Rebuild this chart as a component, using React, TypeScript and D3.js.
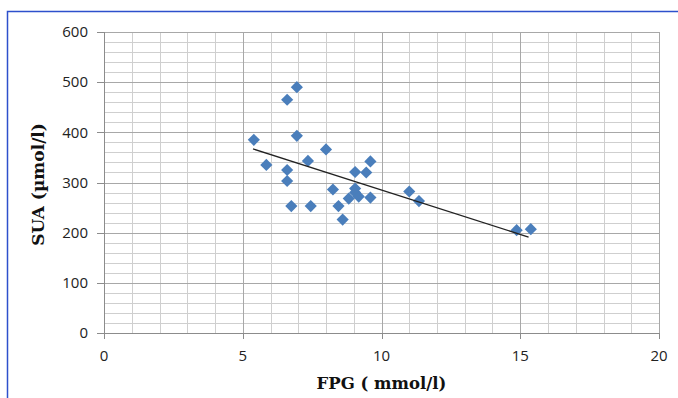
import * as d3 from "d3";
import { useMemo } from "react";

// FPG (mmol/l) vs SUA (umol/l)
const fpg = [
  5.4, 5.85, 6.6, 6.6, 6.6, 6.75, 6.95, 6.95, 7.35, 7.45, 8.0, 8.25, 8.45,
  8.6, 8.82, 9.05, 9.05, 9.05, 9.18, 9.45, 9.6, 9.6, 11.0, 11.35, 14.87, 15.38,
];
const sua = [
  385, 335, 465, 325, 303, 253, 490, 393, 343, 253, 366, 286, 253, 226, 268,
  321, 288, 280, 272, 320, 342, 270, 282, 263, 205, 207,
];

// linear trend as drawn in the picture
const trendRange = [5.37, 15.3];
const trendSlope = -17.7;
const trendIntercept = 462;

const xTicks = [0, 5, 10, 15, 20];
const yTicks = [0, 100, 200, 300, 400, 500, 600];

const width = 678;
const height = 398;
const marginLeft = 104;
const marginRight = 19;
const marginTop = 32;
const marginBottom = 65;

export default function App() {
  const { x, y, minorX, minorY, diamond, trend } = useMemo(() => {
    const x = d3
      .scaleLinear()
      .domain([0, 20])
      .range([marginLeft, width - marginRight]);
    const y = d3
      .scaleLinear()
      .domain([0, 600])
      .range([height - marginBottom, marginTop]);
    const minorX = d3.range(0, 21, 1);
    const minorY = d3.range(0, 601, 20);
    const diamond = d3.symbol(d3.symbolSquare, 74)() as string;
    const trend = d3
      .line<number>()
      .x((d) => x(d))
      .y((d) => y(trendIntercept + trendSlope * d))(trendRange) as string;
    return { x, y, minorX, minorY, diamond, trend };
  }, []);

  const x0 = x(0);
  const x1 = x(20);
  const y0 = y(0);
  const y1 = y(600);
  const tickFont = "'Open Sans', 'Liberation Sans', sans-serif";
  const titleFont = "'DejaVu Serif', 'Liberation Serif', serif";

  return (
    <svg
      width={width}
      height={height}
      style={{ position: "absolute", left: 0, top: 0, background: "#fff" }}
    >
      <rect x={7.5} y={11.5} width={700} height={420} fill="none" stroke="#2d50cc" strokeWidth={1.5} />

      {/* minor grid */}
      <g stroke="#cfcfcf" strokeWidth={1}>
        {minorX.map((d) => (
          <line key={"mx" + d} x1={Math.round(x(d)) + 0.5} x2={Math.round(x(d)) + 0.5} y1={y1} y2={y0} />
        ))}
        {minorY.map((d) => (
          <line key={"my" + d} x1={x0} x2={x1} y1={Math.round(y(d)) + 0.5} y2={Math.round(y(d)) + 0.5} />
        ))}
      </g>
      {/* major grid */}
      <g stroke="#a8a8a8" strokeWidth={1}>
        {xTicks.map((d) => (
          <line key={"Mx" + d} x1={Math.round(x(d)) + 0.5} x2={Math.round(x(d)) + 0.5} y1={y1} y2={y0} />
        ))}
        {yTicks.map((d) => (
          <line key={"My" + d} x1={x0} x2={x1} y1={Math.round(y(d)) + 0.5} y2={Math.round(y(d)) + 0.5} />
        ))}
      </g>

      {/* axes */}
      <g stroke="#8c8c8c" strokeWidth={1}>
        <line x1={Math.round(x0) + 0.5} x2={Math.round(x0) + 0.5} y1={y1} y2={y0 + 6} />
        <line x1={x0 - 7} x2={x1} y1={Math.round(y0) + 0.5} y2={Math.round(y0) + 0.5} />
        {yTicks.map((d) => (
          <line key={"ty" + d} x1={x0 - 7} x2={x0} y1={Math.round(y(d)) + 0.5} y2={Math.round(y(d)) + 0.5} />
        ))}
        {xTicks.map((d) => (
          <line key={"tx" + d} x1={Math.round(x(d)) + 0.5} x2={Math.round(x(d)) + 0.5} y1={y0} y2={y0 + 6} />
        ))}
      </g>

      <g fontFamily={tickFont} fontSize={15} fill="#222">
        {yTicks.map((d) => (
          <text key={"ly" + d} x={x0 - 16} y={y(d)} dy="0.35em" textAnchor="end">
            {d}
          </text>
        ))}
        {xTicks.map((d) => (
          <text key={"lx" + d} x={x(d)} y={y0 + 28} textAnchor="middle">
            {d}
          </text>
        ))}
      </g>

      <text
        x={(x0 + x1) / 2}
        y={389}
        textAnchor="middle"
        fontFamily={titleFont}
        fontWeight="bold"
        fontSize={16.5}
        fill="#111"
      >
        FPG ( mmol/l)
      </text>
      <text
        transform={`translate(44, ${(y0 + y1) / 2 + 2}) rotate(-90)`}
        textAnchor="middle"
        fontFamily={titleFont}
        fontWeight="bold"
        fontSize={17}
        fill="#111"
      >
        SUA (µmol/l)
      </text>

      {/* points */}
      <g fill="#4a7ebb">
        {fpg.map((d, i) => (
          <path key={i} d={diamond} transform={`translate(${x(d)},${y(sua[i])}) rotate(45)`} />
        ))}
      </g>

      <path d={trend} fill="none" stroke="#222" strokeWidth={1.3} />
    </svg>
  );
}
